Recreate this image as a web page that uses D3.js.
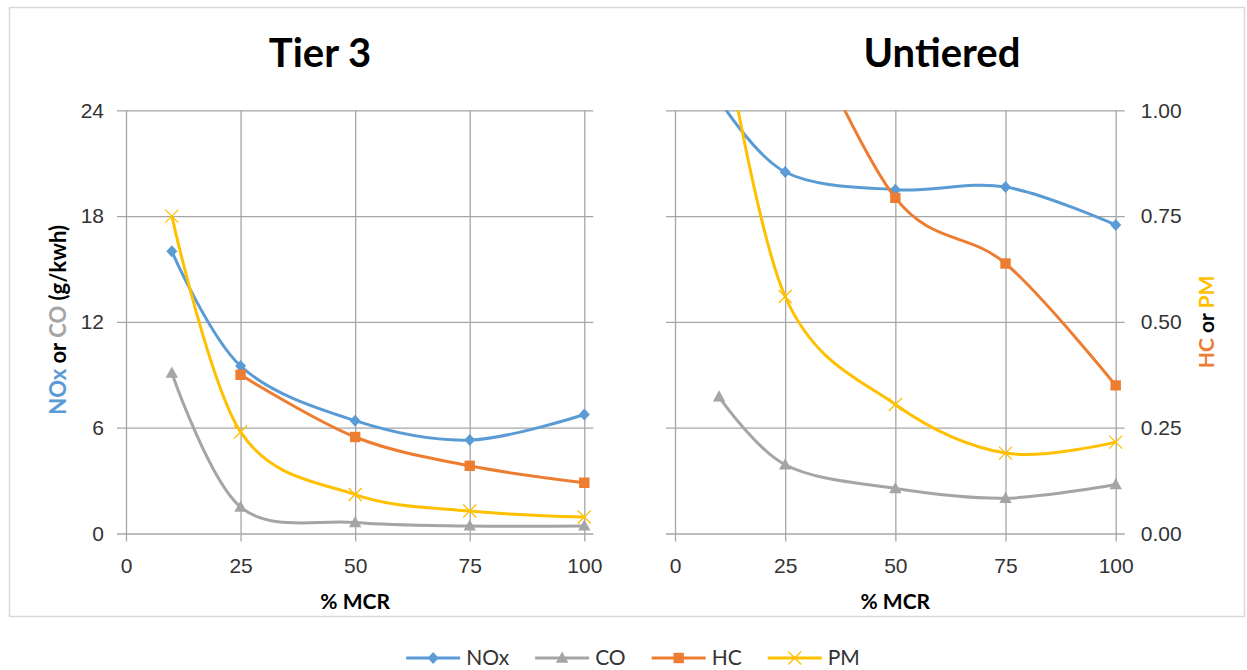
<!DOCTYPE html>
<html>
<head>
<meta charset="utf-8">
<script src="https://cdn.jsdelivr.net/npm/d3@7"></script>
<style>
  body { margin: 0; background: #fff; }
  svg { font-family: Lato, "Open Sans", sans-serif; display: block; }
</style>
</head>
<body>
<svg></svg>
<script>
// Values. NOx, CO on the left axis (g/kwh), HC, PM on the right axis.
let mcr = [10, 25, 50, 75, 100];
let xTicks = [0, 25, 50, 75, 100];
let leftTicks = [0, 6, 12, 18, 24];
let rightTicks = [0, 0.25, 0.5, 0.75, 1];

let tier3NOx = [16.0, 9.5, 6.4, 5.3, 6.75];
let tier3CO = [9.1, 1.5, 0.62, 0.43, 0.43];
let tier3HC = [null, 0.375, 0.228, 0.16, 0.12];
let tier3PM = [0.75, 0.24, 0.092, 0.053, 0.039];

let untieredNOx = [24.6, 20.5, 19.5, 19.65, 17.5];
let untieredCO = [7.75, 3.9, 2.55, 2.0, 2.78];
let untieredHC = [null, 1.3, 0.793, 0.638, 0.35];
let untieredPM = [1.25, 0.56, 0.305, 0.19, 0.216];

let seriesNames = ['NOx', 'CO', 'HC', 'PM'];

let vWidth = 1247;
let vHeight = 670;
let plotTop = 110.3;
let plotBottom = 533.5;

let vStyle = {
  NOx: { color: '#5B9BD5', marker: 'diamond', axis: 'left' },
  CO: { color: '#A5A5A5', marker: 'triangle', axis: 'left' },
  HC: { color: '#ED7D31', marker: 'square', axis: 'right' },
  PM: { color: '#FFC000', marker: 'cross', axis: 'right' }
};

let vPanels = [
  { title: 'Tier 3', left: 126, right: 584.3, titleX: 320,
    values: { NOx: tier3NOx, CO: tier3CO, HC: tier3HC, PM: tier3PM },
    leftLabels: true, rightLabels: false },
  { title: 'Untiered', left: 675, right: 1115.7, titleX: 942,
    values: { NOx: untieredNOx, CO: untieredCO, HC: untieredHC, PM: untieredPM },
    leftLabels: false, rightLabels: true }
];

let svg = d3.select('svg')
  .attr('width', vWidth)
  .attr('height', vHeight)

svg.append('rect')
  .attr('x', 9.5)
  .attr('y', 7.5)
  .attr('width', 1235)
  .attr('height', 609)
  .attr('fill', 'none')
  .attr('stroke', '#d9d9d9')
  .attr('stroke-width', 1.5)

let yLeft = d3.scaleLinear().domain([0, 24]).range([plotBottom, plotTop])
let yRight = d3.scaleLinear().domain([0, 1]).range([plotBottom, plotTop])

function markerPath(type) {
  if (type === 'diamond') return 'M0,-6L5.5,0L0,6L-5.5,0Z'
  if (type === 'triangle') return 'M0,-6.5L6.2,4.7L-6.2,4.7Z'
  if (type === 'square') return 'M-5.2,-5.2H5.2V5.2H-5.2Z'
  return 'M-6.5,-6.5L6.5,6.5M-6.5,6.5L6.5,-6.5'
}

function drawMarker(sel, type, color) {
  sel.attr('d', markerPath(type))
  if (type === 'cross') {
    sel.attr('fill', 'none').attr('stroke', color).attr('stroke-width', 1.3)
  } else {
    sel.attr('fill', color).attr('stroke', 'none')
  }
}

vPanels.forEach((p, i) => {
  let x = d3.scaleLinear().domain([0, 100]).range([p.left, p.right])
  let g = svg.append('g')
  let w = p.right - p.left
  let h = plotBottom - plotTop

  // horizontal gridlines with outer ticks on both sides
  let leftAxis = d3.axisLeft(yLeft)
    .tickValues(leftTicks)
    .tickSizeInner(-(w + 18))
    .tickSizeOuter(0)
    .tickPadding(13)
    .tickFormat(d3.format('d'))
  let la = g.append('g')
    .attr('transform', `translate(${p.left - 9},0)`)
    .call(leftAxis)

  let rightAxis = d3.axisRight(yRight)
    .tickValues(rightTicks)
    .tickSizeInner(0)
    .tickSizeOuter(0)
    .tickPadding(16)
    .tickFormat(d3.format('.2f'))
  let ra = g.append('g')
    .attr('transform', `translate(${p.right + 9},0)`)
    .call(rightAxis)

  if (!p.leftLabels) la.selectAll('text').remove()
  if (!p.rightLabels) ra.selectAll('text').remove()

  // vertical gridlines, extending below as tick marks
  let bottomAxis = d3.axisBottom(x)
    .tickValues(xTicks)
    .tickSizeInner(h + 8)
    .tickSizeOuter(0)
    .tickPadding(17)
  g.append('g')
    .attr('transform', `translate(0,${plotTop})`)
    .call(bottomAxis)

  g.selectAll('.domain').remove()
  g.selectAll('.tick line')
    .attr('stroke', '#a6a6a6')
    .attr('stroke-width', 1.3)
  g.selectAll('.tick text')
    .attr('fill', '#333')
    .style('font-size', '21px')

  // title
  g.append('text')
    .attr('x', p.titleX)
    .attr('y', 67)
    .attr('text-anchor', 'middle')
    .style('font-size', '40px')
    .style('font-weight', 'bold')
    .attr('fill', '#000')
    .text(p.title)

  // x-axis label
  g.append('text')
    .attr('x', (p.left + p.right) / 2)
    .attr('y', 609)
    .attr('text-anchor', 'middle')
    .style('font-size', '21px')
    .style('font-weight', 'bold')
    .attr('fill', '#000')
    .text('% MCR')

  // clip to plot height
  let clipId = 'clip' + i
  svg.append('clipPath')
    .attr('id', clipId)
    .append('rect')
    .attr('x', p.left - 30)
    .attr('y', plotTop)
    .attr('width', w + 60)
    .attr('height', h + 30)

  let marks = g.append('g').attr('clip-path', `url(#${clipId})`)

  seriesNames.forEach((name) => {
    let s = vStyle[name]
    let y = s.axis === 'left' ? yLeft : yRight
    let pts = mcr.map((m, k) => ({ m: m, v: p.values[name][k] }))
      .filter((d) => d.v != null)

    let vLine = d3.line()
      .x((d) => x(d.m))
      .y((d) => y(d.v))
      .curve(d3.curveCardinal.tension(0))

    marks.append('path')
      .datum(pts)
      .attr('d', vLine)
      .attr('fill', 'none')
      .attr('stroke', s.color)
      .attr('stroke-width', 3)
      .attr('stroke-linejoin', 'round')

    marks.selectAll(null)
      .data(pts)
      .enter()
      .append('path')
      .attr('transform', (d) => `translate(${x(d.m)},${y(d.v)})`)
      .call(drawMarker, s.marker, s.color)
  })
})

// left y-axis title
let yl = svg.append('text')
  .attr('transform', `translate(66,${(plotTop + plotBottom) / 2 - 2}) rotate(-90)`)
  .attr('text-anchor', 'middle')
  .style('font-size', '22px')
  .style('font-weight', 'bold')
yl.append('tspan').attr('fill', vStyle.NOx.color).text('NOx')
yl.append('tspan').attr('fill', '#000').text(' or ')
yl.append('tspan').attr('fill', vStyle.CO.color).text('CO')
yl.append('tspan').attr('fill', '#000').text(' (g/kwh)')

// right y-axis title
let yr = svg.append('text')
  .attr('transform', `translate(1214,${(plotTop + plotBottom) / 2}) rotate(-90)`)
  .attr('text-anchor', 'middle')
  .style('font-size', '21px')
  .style('font-weight', 'bold')
yr.append('tspan').attr('fill', vStyle.HC.color).text('HC')
yr.append('tspan').attr('fill', '#000').text(' or ')
yr.append('tspan').attr('fill', vStyle.PM.color).text('PM')

// legend
let legend = svg.append('g')
let lx = 0
let legendY = 658
seriesNames.forEach((name) => {
  let s = vStyle[name]
  let item = legend.append('g').attr('transform', `translate(${lx},${legendY})`)
  item.append('line')
    .attr('x1', 0).attr('x2', 54)
    .attr('stroke', s.color)
    .attr('stroke-width', 3)
  item.append('path')
    .attr('transform', 'translate(27,0)')
    .call(drawMarker, s.marker, s.color)
  let t = item.append('text')
    .attr('x', 60)
    .attr('dy', '0.35em')
    .style('font-size', '21px')
    .attr('fill', '#333')
    .text(name)
  lx += 60 + t.node().getComputedTextLength() + 26
})
let lw = lx - 26
legend.attr('transform', `translate(${633 - lw / 2},0)`)
</script>
</body>
</html>
